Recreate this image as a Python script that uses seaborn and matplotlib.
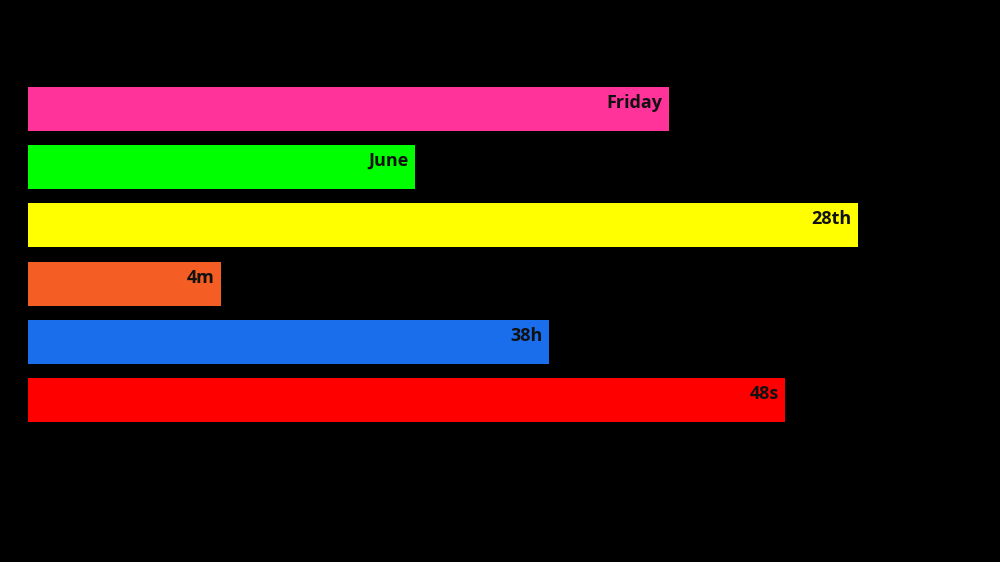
import pandas as pd
import matplotlib
matplotlib.use("Agg")
import matplotlib.pyplot as plt
import seaborn as sns

# Values (share of the track, in %)
labels = ["Friday", "June", "28th", "4m", "38h", "48s"]
values = [67.9, 41.0, 87.9, 20.4, 55.2, 80.2]
colors = ["#FF3399", "#00FF00", "#FFFF00", "#F45E25", "#1A6EEC", "#FF0000"]

sns.set_theme(style="white")
plt.rcParams.update({
    'font.family': ['Open Sans', 'DejaVu Sans'],
    'figure.facecolor': 'black',
    'axes.facecolor': 'black',
    'savefig.facecolor': 'black',
})

df = pd.DataFrame({"label": labels, "value": values})

fig = plt.figure(figsize=(10, 5.62), dpi=100)
ax = fig.add_axes([0.028, 0.2365, 0.944, 0.6214])

sns.barplot(
    data=df, x="value", y="label", hue="label",
    palette=colors, legend=False, orient="h",
    width=0.756, linewidth=0, saturation=1, ax=ax
)

ax.set_xlim(0, 100)
ax.set_ylim(5.5, -0.5)
ax.set_axis_off()

for i, (lab, val) in enumerate(zip(labels, values)):
    ax.annotate(lab, xy=(val, i), xytext=(-4.5, 4.3), textcoords='offset points',
                ha='right', va='center', fontsize=13, fontweight='bold',
                color='#111111')

fig.savefig("out.png", dpi=100, facecolor='black')
